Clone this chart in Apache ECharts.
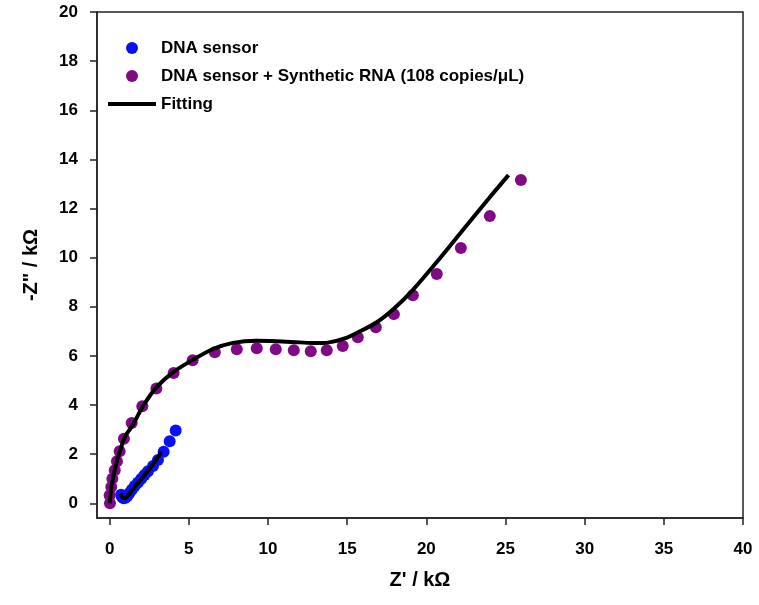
<!DOCTYPE html>
<html><head><meta charset="utf-8">
<script src="https://cdn.jsdelivr.net/npm/echarts@6/dist/echarts.min.js"></script>
<style>html,body{margin:0;padding:0;background:#fff}#c{width:759px;height:605px}</style>
</head><body><div id="c"></div>
<script>
var xTicks = [0, 5, 10, 15, 20, 25, 30, 35, 40];
var yTicks = [0, 2, 4, 6, 8, 10, 12, 14, 16, 18, 20];
var seriesNames = ['DNA sensor', 'DNA sensor + Synthetic RNA (108 copies/\u03bcL)', 'Fitting'];
var dnaSensor = [[0.72,0.35],[0.78,0.25],[0.88,0.2],[1.0,0.22],[1.12,0.3],[1.25,0.42],[1.4,0.55],[1.58,0.7],[1.79,0.85],[2.0,1.0],[2.2,1.15],[2.42,1.3],[2.74,1.52],[3.05,1.76],[3.41,2.1],[3.79,2.52],[4.17,2.96]];
var dnaRna = [[0.02,0.0],[0.0,0.33],[0.1,0.66],[0.17,1.0],[0.32,1.34],[0.46,1.71],[0.63,2.12],[0.9,2.63],[1.39,3.27],[2.06,3.95],[2.95,4.67],[4.04,5.3],[5.24,5.82],[6.64,6.15],[8.03,6.27],[9.29,6.31],[10.49,6.27],[11.63,6.23],[12.7,6.19],[13.71,6.23],[14.72,6.4],[15.67,6.76],[16.81,7.17],[17.95,7.7],[19.15,8.47],[20.66,9.33],[22.18,10.39],[24.01,11.69],[25.97,13.16]];
var fitDna = [[0.7,0.4],[0.8,0.26],[0.92,0.2],[1.05,0.24],[1.3,0.43],[1.7,0.76],[2.2,1.15],[2.7,1.55],[3.26,2.09]];
var fitRna = [[0,0],[0.05,0.3],[0.12,0.7],[0.25,1.14],[0.45,1.7],[0.65,2.12],[0.95,2.68],[1.47,3.2],[2.1,3.95],[2.95,4.72],[4.04,5.35],[5.31,5.86],[6.53,6.28],[7.79,6.53],[9.27,6.62],[10.53,6.6],[12.0,6.55],[13.0,6.52],[13.78,6.54],[14.8,6.7],[15.75,6.98],[16.85,7.36],[18.0,7.95],[19.17,8.7],[20.7,9.85],[22.22,11.05],[24.06,12.5],[25.19,13.36]];

var font = '"Liberation Sans", Arial, Helvetica, sans-serif';
var chart = echarts.init(document.getElementById('c'), null, {renderer: 'canvas'});
chart.setOption({
  animation: false,
  backgroundColor: '#fff',
  grid: {left: 97, right: 16, top: 12, bottom: 87, show: true, borderColor: '#222', borderWidth: 1.5, containLabel: false},
  legend: {
    orient: 'vertical', left: 101, top: 34, itemWidth: 48, itemHeight: 12, itemGap: 10,
    textStyle: {fontFamily: font, fontWeight: 'bold', fontSize: 17, color: '#000', lineHeight: 18},
    data: [
      {name: seriesNames[0], icon: 'circle'},
      {name: seriesNames[1], icon: 'circle'},
      {name: seriesNames[2], itemStyle: {opacity: 0}, lineStyle: {width: 4}}
    ]
  },
  xAxis: {
    type: 'value', min: -0.8, max: 40,
    name: "Z' / k\u03a9", nameLocation: 'middle', nameGap: 52,
    nameTextStyle: {fontFamily: font, fontWeight: 'bold', fontSize: 20, color: '#000'},
    splitLine: {show: false},
    axisLine: {show: true, onZero: false, lineStyle: {color: '#222', width: 1.5}},
    axisTick: {show: true, inside: false, length: 7, customValues: xTicks, lineStyle: {color: '#222', width: 1.5}},
    axisLabel: {customValues: xTicks, margin: 23, fontFamily: font, fontWeight: 'bold', fontSize: 17, color: '#000'}
  },
  yAxis: {
    type: 'value', min: -0.6, max: 20,
    name: '-Z" / k\u03a9', nameLocation: 'middle', nameGap: 56, nameRotate: 90,
    nameTextStyle: {fontFamily: font, fontWeight: 'bold', fontSize: 20, color: '#000'},
    splitLine: {show: false},
    axisLine: {show: true, onZero: false, lineStyle: {color: '#222', width: 1.5}},
    axisTick: {show: true, inside: false, length: 7, customValues: yTicks, lineStyle: {color: '#222', width: 1.5}},
    axisLabel: {customValues: yTicks, margin: 19, fontFamily: font, fontWeight: 'bold', fontSize: 17, color: '#000'}
  },
  series: [
    {name: seriesNames[0], type: 'scatter', data: dnaSensor, symbol: 'circle', symbolSize: 12, itemStyle: {color: '#0a10f5', opacity: 1}, z: 2},
    {name: seriesNames[1], type: 'scatter', data: dnaRna, symbol: 'circle', symbolSize: 12, itemStyle: {color: '#800a85', opacity: 1}, z: 2},
    {name: seriesNames[2], type: 'line', data: fitRna, showSymbol: false, symbol: 'none', smooth: 0.3, lineStyle: {color: '#000', width: 4}, itemStyle: {color: '#000'}, z: 3},
    {name: seriesNames[2], type: 'line', data: fitDna, showSymbol: false, symbol: 'none', smooth: 0.3, lineStyle: {color: '#000', width: 4}, itemStyle: {color: '#000'}, z: 3}
  ]
});
</script>
</body></html>
